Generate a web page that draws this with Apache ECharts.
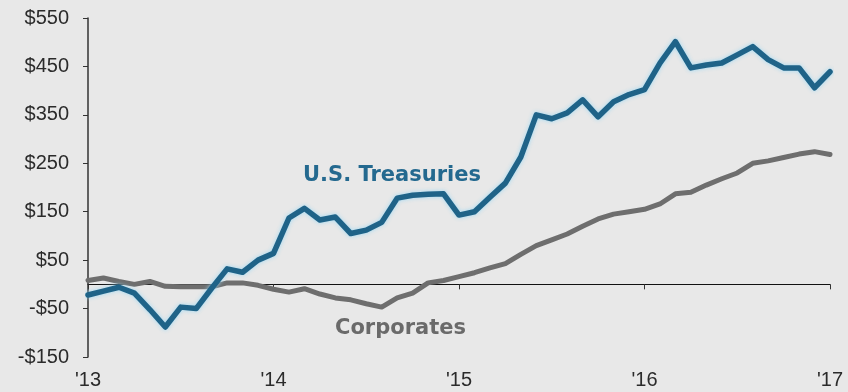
<!DOCTYPE html>
<html>
<head>
<meta charset="utf-8">
<script src="https://cdn.jsdelivr.net/npm/echarts@6/dist/echarts.min.js"></script>
<style>
  html, body { margin: 0; padding: 0; background: #e8e8e8; }
  #chart { width: 848px; height: 392px; }
</style>
</head>
<body>
<div id="chart"></div>
<script>
// Monthly observations, Jan 2013 through Jan 2017
const months = [];
for (let y = 2013; y <= 2017; y++) {
  for (let m = 1; m <= 12; m++) {
    if (y === 2017 && m > 1) break;
    months.push(y + '-' + String(m).padStart(2, '0'));
  }
}

const treasuries = [
  -22, -14, -6, -18, -52, -88, -47, -50, -8, 32, 25, 50,
  64, 137, 157, 133, 139, 105, 112, 128, 178, 184, 186, 187,
  143, 150, 180, 209, 263, 350, 342, 354, 381, 346, 377, 392,
  402, 457, 501, 447, 453, 457, 474, 491, 464, 447, 447, 406,
  439
];

const corporates = [
  8, 13, 6, 0, 6, -4, -5, -5, -5, 3, 3, -2,
  -10, -16, -9, -20, -28, -32, -40, -47, -28, -18, 3, 8,
  16, 24, 34, 43, 62, 80, 92, 104, 120, 135, 145, 150,
  155, 166, 187, 190, 205, 218, 230, 250, 255, 262, 269, 274,
  268
];

const yTicks = { min: -150, max: 550, step: 100 };

const tickFont = "'Liberation Sans', Arial, sans-serif";
const noteFont = "'DejaVu Sans', sans-serif";

function money(v) {
  return v < 0 ? '-$' + Math.abs(v) : '$' + v;
}
function yearLabel(value) {
  return "'" + value.slice(2, 4);
}

const chart = echarts.init(document.getElementById('chart'), null, { renderer: 'canvas' });

chart.setOption({
  backgroundColor: '#e8e8e8',
  animation: false,
  grid: { left: 88, right: 18, top: 18, bottom: 35 },
  xAxis: [
    {
      type: 'category',
      data: months,
      boundaryGap: false,
      axisLine: { onZero: true, lineStyle: { color: '#111', width: 1 } },
      axisTick: { show: true, interval: 11, length: 5, lineStyle: { color: '#333' } },
      axisLabel: { show: false },
      splitLine: { show: false }
    },
    {
      type: 'category',
      data: months,
      boundaryGap: false,
      position: 'bottom',
      axisLine: { show: false, onZero: false },
      axisTick: { show: false },
      axisLabel: {
        interval: 11,
        formatter: yearLabel,
        fontFamily: tickFont,
        fontSize: 20,
        color: '#2b2b2b',
        margin: 13
      },
      splitLine: { show: false }
    }
  ],
  yAxis: {
    type: 'value',
    min: yTicks.min,
    max: yTicks.max,
    interval: yTicks.step,
    axisLine: { show: true, onZero: false, lineStyle: { color: '#333', width: 1.5 } },
    axisTick: { show: true, length: 5, lineStyle: { color: '#333' } },
    axisLabel: {
      formatter: money,
      fontFamily: tickFont,
      fontSize: 20,
      color: '#2b2b2b',
      margin: 19
    },
    splitLine: { show: false }
  },
  series: [
    {
      name: 'Corporates',
      type: 'line',
      data: corporates,
      symbol: 'none',
      lineStyle: { color: '#6e6e6e', width: 5, join: 'round', cap: 'round' },
      z: 2
    },
    {
      name: 'U.S. Treasuries',
      type: 'line',
      data: treasuries,
      symbol: 'none',
      lineStyle: {
        color: '#1f6388',
        width: 5.5,
        join: 'round',
        cap: 'round',
        shadowColor: 'rgba(150,215,245,0.9)',
        shadowBlur: 4
      },
      z: 3
    }
  ],
  graphic: [
    {
      type: 'text',
      left: 303,
      top: 165,
      style: {
        text: 'U.S. Treasuries',
        fontFamily: noteFont,
        fontWeight: 'bold',
        fontSize: 21,
        fill: '#24698f'
      }
    },
    {
      type: 'text',
      left: 335,
      top: 318,
      style: {
        text: 'Corporates',
        fontFamily: noteFont,
        fontWeight: 'bold',
        fontSize: 21,
        fill: '#6a6a6a'
      }
    }
  ]
});
</script>
</body>
</html>
